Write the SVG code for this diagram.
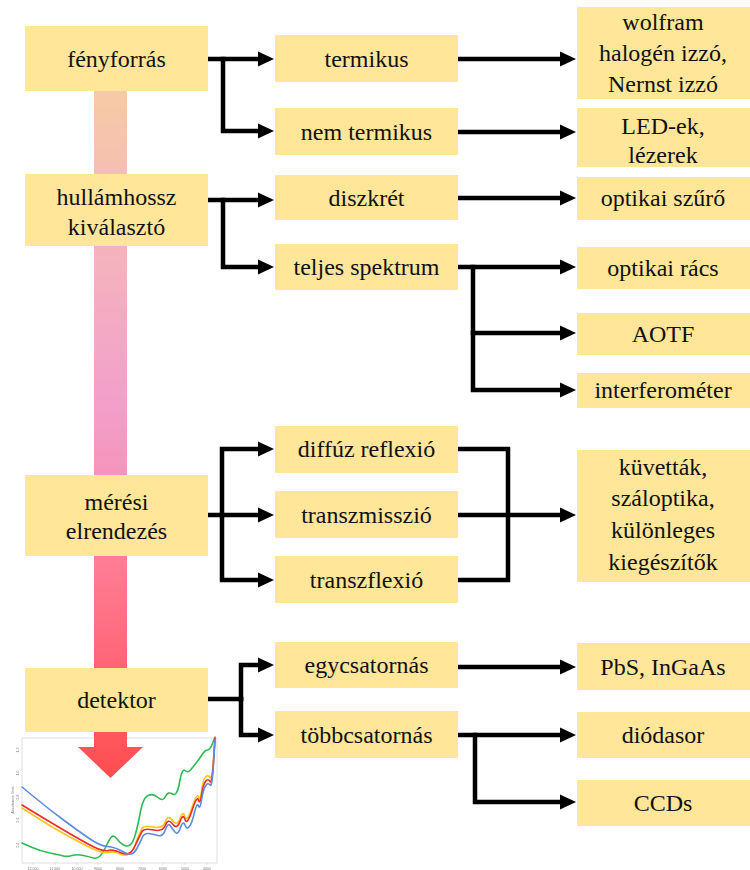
<svg xmlns="http://www.w3.org/2000/svg" width="750" height="870" viewBox="0 0 750 870">
  <style>
    .box { fill: #FFE699; }
    .lbl { font-family: "Liberation Serif", "Times New Roman", serif; font-size: 24px; fill: #111; text-anchor: middle; }
    .wire { fill: none; stroke: #000; stroke-width: 4.5; stroke-linecap: square; stroke-linejoin: miter; }
    .arr { marker-end: url(#head); }
    .tick { font-family: "Liberation Sans", Arial, sans-serif; font-size: 3.5px; fill: #777; text-anchor: middle; }
    .curve { fill: none; stroke-width: 1.6; stroke-linejoin: round; stroke-linecap: round; }
  </style>
  <defs>
    <marker id="head" markerUnits="userSpaceOnUse" markerWidth="17" markerHeight="17" viewBox="0 -8.5 17 17" refX="1" refY="0" orient="auto">
      <path d="M0,-7.5 L16,0 L0,7.5 Z" fill="#000"/>
    </marker>
    <linearGradient id="flow" gradientUnits="userSpaceOnUse" x1="0" y1="90" x2="0" y2="778">
      <stop offset="0" stop-color="#F6CBA6"/>
      <stop offset="0.225" stop-color="#F4B4BC"/>
      <stop offset="0.45" stop-color="#F2A0CA"/>
      <stop offset="0.55" stop-color="#F595BC"/>
      <stop offset="0.68" stop-color="#FF7E96"/>
      <stop offset="0.83" stop-color="#FF6678"/>
      <stop offset="1" stop-color="#FF4D4F"/>
    </linearGradient>
    <filter id="soft" x="-5%" y="-5%" width="110%" height="110%">
      <feGaussianBlur stdDeviation="0.35"/>
    </filter>
  </defs>

  <rect width="750" height="870" fill="#fff"/>

  <!-- absorbance spectrum inset -->
  <g id="spectrum" filter="url(#soft)">
    <rect x="22" y="738" width="195" height="125" fill="#fff" stroke="#d8d8d8" stroke-width="0.8"/>
    <g stroke="#cfcfcf" stroke-width="0.6">
      <path d="M33,863v2 M55,863v2 M77,863v2 M98,863v2 M120,863v2 M142,863v2 M163,863v2 M185,863v2 M207,863v2"/>
    </g>
    <text class="tick" x="33" y="869.5">12 000</text>
    <text class="tick" x="55" y="869.5">11 000</text>
    <text class="tick" x="77" y="869.5">10 000</text>
    <text class="tick" x="98" y="869.5">9000</text>
    <text class="tick" x="120" y="869.5">8000</text>
    <text class="tick" x="142" y="869.5">7000</text>
    <text class="tick" x="163" y="869.5">6000</text>
    <text class="tick" x="185" y="869.5">5000</text>
    <text class="tick" x="207" y="869.5">4000</text>
    <text class="tick" transform="translate(18.5,750) rotate(-90)">1.2</text>
    <text class="tick" transform="translate(18.5,773) rotate(-90)">1.0</text>
    <text class="tick" transform="translate(18.5,797) rotate(-90)">0.8</text>
    <text class="tick" transform="translate(18.5,820) rotate(-90)">0.6</text>
    <text class="tick" transform="translate(18.5,845) rotate(-90)">0.4</text>
    <text class="tick" transform="translate(13.5,800) rotate(-90)">Absorbance Units</text>
    <path class="curve" stroke="#2DBA55" d="M22,843 L31,847 Q40,851 50,853 Q60,855 63.5,856 Q67,857 72,855.5 Q77,854 83.5,855.5 Q90,857 93.5,858 Q97,859 100,856 Q103,853 106.5,845.5 Q110,838 112,836.5 Q114,835 117,839 Q120,843 123.5,845 Q127,847 130,845 Q133,843 135.5,834 Q138,825 140.5,811.5 Q143,798 148,795.5 Q153,793 158,797.5 Q163,802 165.5,796.5 Q168,791 172.5,794 Q177,797 179.5,782.5 Q182,768 185,770.5 Q188,773 190.5,770 Q193,767 196.5,762.5 Q200,758 202.5,754 Q205,750 207.5,750 Q210,750 212.5,743.5 L215,737"/>
    <path class="curve" stroke="#FFC41F" d="M22,808 L36,817 Q50,826 63.5,833.5 Q77,841 90,847.5 Q103,854 108,852.5 Q113,851 121.5,854.5 Q130,858 135,845 Q140,832 142,828.5 Q144,825 153.5,827 Q163,829 165.5,821.5 Q168,814 172.5,820.5 Q177,827 180,818.5 Q183,810 185,816.5 Q187,823 192,807.5 Q197,792 198.5,797 Q200,802 201.5,791 Q203,780 205.5,777 Q208,774 210,777.5 Q212,781 213.5,759.5 L215,738"/>
    <path class="curve" stroke="#F22A2A" d="M22,805 L36,813.5 Q50,822 63.5,830 Q77,838 90,845 Q103,852 108,850.5 Q113,849 121.5,853 Q130,857 135,846 Q140,835 142,831.5 Q144,828 153.5,830 Q163,832 165.5,825 Q168,818 172.5,824 Q177,830 180,821.5 Q183,813 185,819.5 Q187,826 192,810.5 Q197,795 198.5,800 Q200,805 201.5,795 Q203,785 205.5,781.5 Q208,778 210,781.5 Q212,785 213.5,761.5 L215,738"/>
    <path class="curve" stroke="#5B8CE0" d="M22,787 L36,798.5 Q50,810 63.5,820 Q77,830 88.5,838 Q100,846 107.5,846.5 Q115,847 123.5,852 Q132,857 136,850 Q140,843 142,838 Q144,833 148.5,833.5 Q153,834 158,835.5 Q163,837 165.5,829.5 Q168,822 170.5,826 Q173,830 175.5,832.5 Q178,835 180.5,827.5 Q183,820 185,825 Q187,830 189.5,826.5 Q192,823 194.5,812.5 Q197,802 198.5,806 Q200,810 201.5,800 Q203,790 205.5,786 Q208,782 210,785 Q212,788 213.5,764 L215,740"/>
  </g>

  <!-- process flow arrow down the left column -->
  <path id="flow-arrow" d="M94,90 H127 V747 H143 L110.5,778 L78,747 H94 Z" fill="url(#flow)"/>

  <!-- connectors -->
  <g id="connectors">
    <path class="wire arr" d="M208,59 H259"/>
    <path class="wire arr" d="M223,59 V131 H259"/>
    <path class="wire arr" d="M458,59 H561"/>
    <path class="wire arr" d="M458,132 H561"/>

    <path class="wire arr" d="M208,200 H259"/>
    <path class="wire arr" d="M223,200 V267 H259"/>
    <path class="wire arr" d="M458,198 H561"/>
    <path class="wire arr" d="M458,267 H561"/>
    <path class="wire arr" d="M473,267 V390 H561"/>
    <path class="wire arr" d="M473,333 H561"/>

    <path class="wire arr" d="M208,515 H259"/>
    <path class="wire arr" d="M222,515 V449 H259"/>
    <path class="wire arr" d="M222,515 V580 H259"/>
    <path class="wire" d="M458,449 H508 V580 H459"/>
    <path class="wire arr" d="M458,515 H561"/>

    <path class="wire" d="M208,699 H241"/>
    <path class="wire arr" d="M241,699 V665 H259"/>
    <path class="wire arr" d="M241,699 V735 H259"/>
    <path class="wire arr" d="M458,667 H561"/>
    <path class="wire arr" d="M458,735 H561"/>
    <path class="wire arr" d="M475,735 V802 H561"/>
  </g>

  <!-- left column: measurement stages -->
  <g id="n-fenyforras"><rect class="box" x="25" y="26" width="183" height="65"/><text class="lbl" x="116.5" y="67">fényforrás</text></g>
  <g id="n-hullamhossz"><rect class="box" x="25" y="174" width="183" height="72"/><text class="lbl" x="116.5" y="205">hullámhossz</text><text class="lbl" x="116.5" y="235">kiválasztó</text></g>
  <g id="n-meresi"><rect class="box" x="25" y="475" width="183" height="81"/><text class="lbl" x="116.5" y="510">mérési</text><text class="lbl" x="116.5" y="539">elrendezés</text></g>
  <g id="n-detektor"><rect class="box" x="25" y="668" width="183" height="64"/><text class="lbl" x="116.5" y="708">detektor</text></g>

  <!-- middle column -->
  <g id="n-termikus"><rect class="box" x="275" y="35" width="183" height="47"/><text class="lbl" x="366.5" y="67">termikus</text></g>
  <g id="n-nemtermikus"><rect class="box" x="275" y="108" width="183" height="47"/><text class="lbl" x="366.5" y="140">nem termikus</text></g>
  <g id="n-diszkret"><rect class="box" x="275" y="175" width="183" height="45"/><text class="lbl" x="366.5" y="206">diszkrét</text></g>
  <g id="n-teljes"><rect class="box" x="275" y="244" width="183" height="46"/><text class="lbl" x="366.5" y="275">teljes spektrum</text></g>
  <g id="n-diffuz"><rect class="box" x="275" y="426" width="183" height="47"/><text class="lbl" x="366.5" y="457">diffúz reflexió</text></g>
  <g id="n-transzmisszio"><rect class="box" x="275" y="491" width="183" height="47"/><text class="lbl" x="366.5" y="523">transzmisszió</text></g>
  <g id="n-transzflexio"><rect class="box" x="275" y="556" width="183" height="47"/><text class="lbl" x="366.5" y="588">transzflexió</text></g>
  <g id="n-egycsatornas"><rect class="box" x="275" y="642" width="183" height="46"/><text class="lbl" x="366.5" y="673">egycsatornás</text></g>
  <g id="n-tobbcsatornas"><rect class="box" x="275" y="711" width="183" height="47"/><text class="lbl" x="366.5" y="743">többcsatornás</text></g>

  <!-- right column: examples -->
  <g id="n-wolfram"><rect class="box" x="577" y="7" width="173" height="92"/><text class="lbl" x="663" y="30">wolfram</text><text class="lbl" x="663" y="61">halogén  izzó,</text><text class="lbl" x="663" y="92">Nernst izzó</text></g>
  <g id="n-led"><rect class="box" x="577" y="108" width="173" height="59"/><text class="lbl" x="663" y="134">LED-ek,</text><text class="lbl" x="663" y="163">lézerek</text></g>
  <g id="n-szuro"><rect class="box" x="577" y="177" width="173" height="43"/><text class="lbl" x="663" y="206">optikai  szűrő</text></g>
  <g id="n-racs"><rect class="box" x="577" y="247" width="173" height="42"/><text class="lbl" x="663" y="276">optikai  rács</text></g>
  <g id="n-aotf"><rect class="box" x="577" y="313" width="173" height="42"/><text class="lbl" x="663" y="342">AOTF</text></g>
  <g id="n-interferometer"><rect class="box" x="577" y="373" width="173" height="35"/><text class="lbl" x="663" y="398">interferométer</text></g>
  <g id="n-kuvettak"><rect class="box" x="577" y="450" width="173" height="132"/><text class="lbl" x="663" y="475">küvetták,</text><text class="lbl" x="663" y="506">száloptika,</text><text class="lbl" x="663" y="538">különleges</text><text class="lbl" x="663" y="570">kiegészítők</text></g>
  <g id="n-pbs"><rect class="box" x="577" y="643" width="173" height="47"/><text class="lbl" x="663" y="675">PbS, InGaAs</text></g>
  <g id="n-diodasor"><rect class="box" x="577" y="712" width="173" height="46"/><text class="lbl" x="663" y="743">diódasor</text></g>
  <g id="n-ccds"><rect class="box" x="577" y="780" width="173" height="46"/><text class="lbl" x="663" y="811">CCDs</text></g>
</svg>
